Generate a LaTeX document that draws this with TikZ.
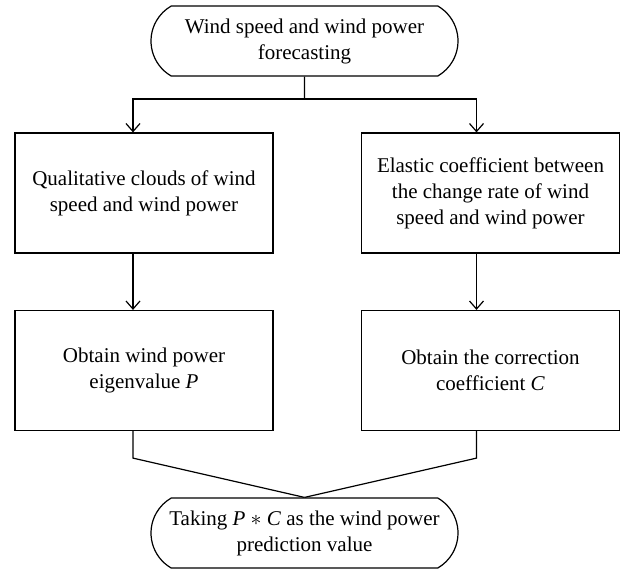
\documentclass[tikz,border=0pt]{standalone}
\usepackage{fontspec}
\setmainfont{Liberation Serif}
\usetikzlibrary{shapes.misc, arrows.meta}

\begin{document}
\begin{tikzpicture}[x=0.5pt, y=-0.5pt, line width=0.6pt,
    caixa/.style={draw, rectangle, minimum width=129pt, minimum height=60pt,
        align=center, inner sep=0pt, font=\fontsize{10.5}{13}\selectfont},
    term/.style={draw, rounded rectangle, rounded rectangle arc length=120,
        minimum width=153.5pt, minimum height=35pt, align=center, inner sep=0pt,
        font=\fontsize{10.5}{13}\selectfont},
    seta/.style={-{Straight Barb[length=4pt,width=7pt]}}]
    \useasboundingbox (0,0) rectangle (621,569);
    % Inicio
    \node[term] (prev) at (304.5,41) {Wind speed and wind power\\forecasting};
    \coordinate (j) at (304.5,99);
    % Caixas
    \node[caixa] (nuvem) at (144,193) {Qualitative clouds of wind\\speed and wind power};
    \node[caixa] (elast) at (490.5,193) {Elastic coefficient between\\the change rate of wind\\speed and wind power};
    \node[caixa] (autoP) at (144,370.5) {Obtain wind power\\eigenvalue \textit{P}};
    \node[caixa] (corrC) at (490.5,370.5) {Obtain the correction\\coefficient \textit{C}};
    % Fim
    \node[term] (res) at (304.5,533) {Taking \textit{P} $\ast$ \textit{C} as the wind power\\prediction value};
    % Ligacoes
    \draw (prev) -- (j);
    \draw[seta] (j) -| ([xshift=-5.5pt]nuvem.north);
    \draw[seta] (j) -| ([xshift=-7pt]elast.north);
    \draw[seta] ([xshift=-5.5pt]nuvem.south) -- ([xshift=-5.5pt]autoP.north);
    \draw[seta] ([xshift=-7pt]elast.south) -- ([xshift=-7pt]corrC.north);
    \draw ([xshift=-5.5pt]autoP.south) -- ++(0,-13.5pt) -- (res.north);
    \draw ([xshift=-7pt]corrC.south) -- ++(0,-13.5pt) -- (res.north);
\end{tikzpicture}
\end{document}
